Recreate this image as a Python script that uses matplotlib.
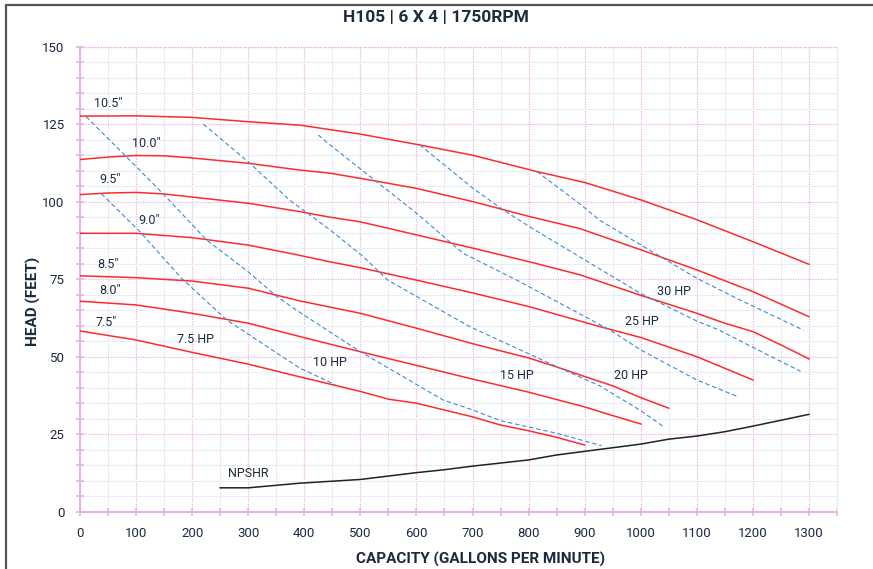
import matplotlib.pyplot as plt
from matplotlib.ticker import MultipleLocator
from matplotlib.patches import Rectangle

plt.rcParams["font.family"] = ["Roboto", "DejaVu Sans"]

# impeller trims: capacity (gpm) and head (ft)
d105_q = [0, 100, 200, 300, 392, 500, 606, 700, 815, 900, 1000, 1100, 1200, 1300]
d105_h = [127.6, 127.7, 127.2, 125.8, 124.7, 121.8, 118.3, 115.0, 109.7, 106.2, 100.6, 94.2, 87.1, 79.8]

d100_q = [0, 50, 100, 150, 200, 300, 392, 446, 517, 600, 701, 802, 892, 1000, 1100, 1200, 1300]
d100_h = [113.6, 114.4, 114.9, 114.8, 114.1, 112.4, 110.2, 109.2, 107.0, 104.3, 100.0, 95.2, 91.3, 84.5, 78.0, 71.0, 62.9]

d95_q = [0, 50, 100, 150, 200, 300, 392, 446, 500, 600, 701, 802, 892, 1000, 1100, 1150, 1200, 1250, 1300]
d95_h = [102.3, 102.8, 103.0, 102.5, 101.5, 99.5, 96.8, 95.0, 93.5, 89.3, 85.0, 80.6, 76.4, 69.8, 64.0, 60.8, 58.1, 53.8, 49.3]

d90_q = [0, 100, 200, 300, 389, 446, 500, 600, 695, 802, 927, 1000, 1100, 1200]
d90_h = [89.8, 89.8, 88.4, 86.0, 82.8, 80.6, 78.7, 74.7, 70.8, 66.1, 59.7, 56.2, 50.0, 42.5]

d85_q = [0, 100, 200, 300, 392, 500, 600, 700, 800, 850, 900, 950, 1000, 1050]
d85_h = [76.1, 75.5, 74.4, 72.1, 68.0, 64.0, 59.2, 54.2, 49.6, 46.7, 43.6, 40.6, 36.8, 33.4]

d80_q = [0, 100, 200, 300, 392, 500, 600, 695, 797, 900, 950, 1000]
d80_h = [67.9, 66.7, 64.0, 60.8, 56.5, 51.6, 47.2, 43.0, 38.7, 33.8, 31.0, 28.3]

d75_q = [0, 100, 200, 300, 392, 500, 550, 600, 700, 749, 800, 850, 900]
d75_h = [58.3, 55.4, 51.4, 47.6, 43.5, 38.8, 36.3, 35.0, 30.6, 28.0, 26.1, 24.0, 21.5]

trim_labels = ['10.5"', '10.0"', '9.5"', '9.0"', '8.5"', '8.0"', '7.5"']
trim_label_q = [50, 119, 53, 123, 50, 53, 47]
trim_label_h = [131.8, 118.9, 107.0, 93.8, 79.9, 71.5, 60.9]

# horsepower lines
hp75_q = [38, 107, 181, 262, 392, 455]
hp75_h = [102.6, 90.3, 75.3, 61.8, 46.3, 41.0]

hp10_q = [11, 80, 149, 226, 300, 351, 392, 500, 648, 701, 749, 850, 930]
hp10_h = [127.4, 115.0, 102.4, 87.6, 77.4, 69.4, 64.3, 51.6, 36.0, 32.8, 29.4, 25.3, 21.3]

hp15_q = [220, 303, 374, 446, 505, 549, 695, 850, 927, 1000, 1040]
hp15_h = [125.0, 112.4, 100.5, 90.9, 82.3, 74.7, 59.7, 46.8, 40.6, 32.6, 27.5]

hp20_q = [425, 446, 600, 683, 779, 945, 1000, 1100, 1175]
hp20_h = [121.5, 118.3, 96.3, 83.4, 74.7, 58.6, 52.2, 42.5, 37.0]

hp25_q = [606, 701, 755, 802, 892, 999, 1100, 1141, 1200, 1285]
hp25_h = [118.3, 104.3, 97.3, 91.9, 82.1, 70.5, 61.5, 58.5, 53.0, 45.3]

hp30_q = [815, 892, 927, 1034, 1100, 1177, 1290]
hp30_h = [109.7, 99.2, 94.0, 82.4, 75.3, 68.3, 58.6]

hp_labels = ["7.5 HP", "10 HP", "15 HP", "20 HP", "25 HP", "30 HP"]
hp_label_q = [206, 446, 779, 982, 1002, 1059]
hp_label_h = [55.7, 48.0, 43.8, 44.0, 61.3, 71.0]

npshr_q = [250, 300, 392, 500, 600, 648, 700, 800, 850, 927, 1000, 1050, 1100, 1150, 1200, 1300]
npshr_h = [7.7, 7.7, 9.2, 10.4, 12.6, 13.5, 14.7, 16.7, 18.3, 20.1, 21.8, 23.4, 24.4, 25.8, 27.6, 31.4]

TEXT = "#1c2a3e"
RED = "#ff2b2b"
BLUE = "#3b8ad6"
PINK = "#eab0e4"

fig = plt.figure(figsize=(8.73, 5.69), dpi=100)
ax = fig.add_axes([80 / 873, 1 - 511.7 / 569, 757 / 873, 465 / 569])

# outer frame (only the top and left edges are visible)
fig.patches.append(Rectangle((6 / 873, -0.1), 1.2, 1.1 - 5 / 569, transform=fig.transFigure,
                             fill=False, edgecolor="#555555", linewidth=1.6))

for q, h in [(d105_q, d105_h), (d100_q, d100_h), (d95_q, d95_h), (d90_q, d90_h),
             (d85_q, d85_h), (d80_q, d80_h), (d75_q, d75_h)]:
    ax.plot(q, h, color=RED, linewidth=1.1, zorder=3)

for q, h in [(hp75_q, hp75_h), (hp10_q, hp10_h), (hp15_q, hp15_h),
             (hp20_q, hp20_h), (hp25_q, hp25_h), (hp30_q, hp30_h)]:
    ax.plot(q, h, color=BLUE, linewidth=0.8, dashes=(4, 2.5), zorder=3)

ax.plot(npshr_q, npshr_h, color="#222222", linewidth=1.1, zorder=3)

for lbl, q, h in zip(trim_labels, trim_label_q, trim_label_h):
    ax.text(q, h, lbl, ha="center", va="center", fontsize=9, color=TEXT)
for lbl, q, h in zip(hp_labels, hp_label_q, hp_label_h):
    ax.text(q, h, lbl, ha="center", va="center", fontsize=9, color=TEXT)
ax.text(300, 12.4, "NPSHR", ha="center", va="center", fontsize=9, color=TEXT)

ax.set_xlim(0, 1350)
ax.set_ylim(0, 150)
ax.xaxis.set_major_locator(MultipleLocator(100))
ax.xaxis.set_minor_locator(MultipleLocator(50))
ax.yaxis.set_major_locator(MultipleLocator(25))
ax.yaxis.set_minor_locator(MultipleLocator(5))
ax.set_xticks(range(0, 1301, 100))
ax.set_xticklabels([str(v) for v in range(0, 1301, 100)])

ax.grid(which="minor", color="#e9eef6", linewidth=0.8, linestyle="-")
ax.grid(which="major", color=PINK, linewidth=0.9, linestyle=(0, (1, 1)))
ax.set_axisbelow(True)

for s in ["top", "right"]:
    ax.spines[s].set_visible(False)
for s in ["left", "bottom"]:
    ax.spines[s].set_color(PINK)
    ax.spines[s].set_linewidth(1.4)
ax.plot([0, 1350], [150, 150], color=PINK, linewidth=0.9, linestyle=(0, (1, 1)), clip_on=False)
ax.plot([1350, 1350], [0, 150], color="#e9eef6", linewidth=0.9, clip_on=False)

ax.tick_params(which="both", direction="inout", color=PINK, width=1.2)
ax.tick_params(which="major", length=6, labelsize=9.5, labelcolor=TEXT)
ax.tick_params(which="minor", length=6)
ax.tick_params(axis="y", pad=8)
ax.tick_params(axis="x", pad=8)

fig.text(436 / 873, 1 - 18 / 569, "H105 | 6 X 4 | 1750RPM", ha="center", va="center",
         fontsize=12.5, fontweight="bold", color=TEXT)
fig.text(481 / 873, 1 - 559 / 569, "CAPACITY (GALLONS PER MINUTE)", ha="center", va="center",
         fontsize=11, fontweight="bold", color=TEXT)
fig.text(33 / 873, 1 - 301 / 569, "HEAD (FEET)", ha="center", va="center", rotation=90,
         fontsize=11, fontweight="bold", color=TEXT)

fig.savefig("out.png", dpi=100)
